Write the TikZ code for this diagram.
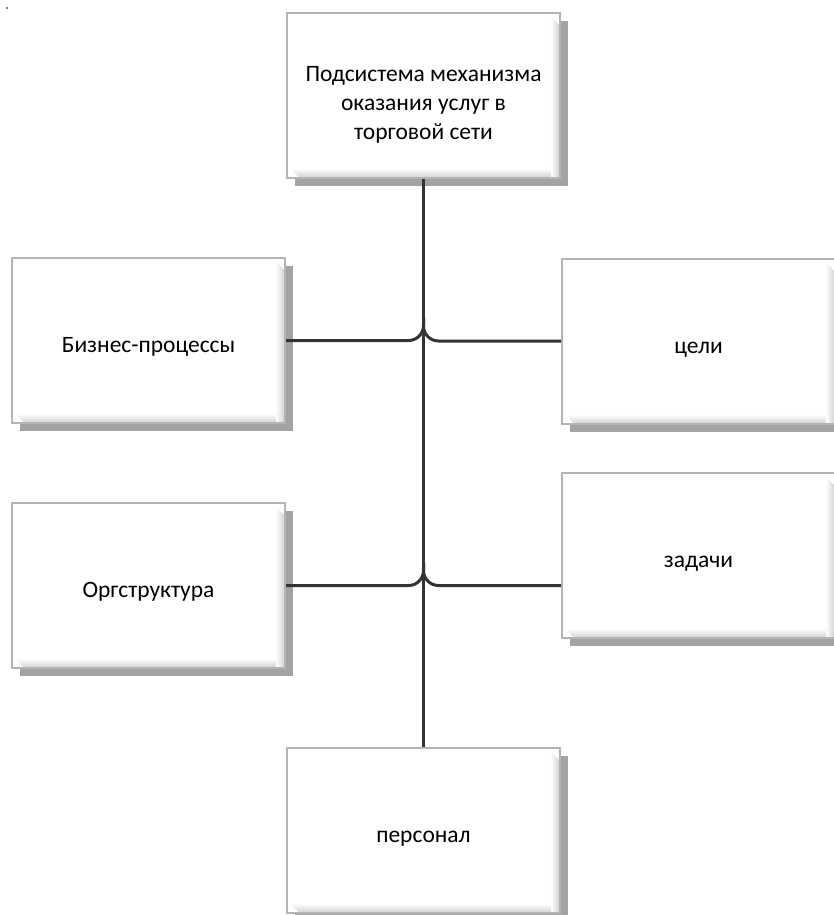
\documentclass[tikz,border=0pt]{standalone}
\usepackage{fontspec}
\setmainfont{Carlito}
\usetikzlibrary{shadows}
\definecolor{conncol}{HTML}{333333}
\definecolor{bordcol}{HTML}{B4B4B4}
\definecolor{shadcol}{HTML}{A3A3A3}
\definecolor{bevcol}{HTML}{D4D4D4}
\tikzset{
  box/.style={draw=bordcol, line width=2pt, fill=white, inner sep=0pt,
    minimum width=273pt, minimum height=165pt, align=center,
    font=\fontsize{23.5}{29}\selectfont,
    text height=29pt, text depth=5pt,
    drop shadow={shadow xshift=8pt, shadow yshift=-8pt, fill=shadcol, opacity=1},
    path picture={
      \foreach \i in {0,...,8}{
        \pgfmathtruncatemacro\cc{100-\i*12}
        \fill[bevcol!\cc!white]
          ([xshift=-\i*1pt-1pt, yshift=-12pt+\i*1pt]path picture bounding box.north east)
          rectangle ([xshift=-\i*1pt]path picture bounding box.south east);
        \fill[bevcol!\cc!white]
          ([xshift=12pt-\i*1pt, yshift=\i*1pt]path picture bounding box.south west)
          rectangle ([xshift=-\i*1pt, yshift=\i*1pt+1pt]path picture bounding box.south east);
      }
    }},
  conn/.style={draw=conncol, line width=3pt, rounded corners=15pt}
}
\begin{document}
\begin{tikzpicture}[x=1pt,y=-1pt]
\useasboundingbox (0,0) rectangle (833,915);
\fill[gray] (6,7) rectangle (8,9);
\node[box, text height=90pt, text depth=2pt] (top) at (423.5,95.5) {Подсистема механизма\\оказания услуг в\\торговой сети};
\node[box] (bp) at (148.5,340.5) {Бизнес-процессы};
\node[box] (cel) at (698.5,341) {цели};
\node[box] (org) at (148.5,585.5) {Оргструктура};
\node[box] (zad) at (698.5,555) {задачи};
\node[box] (pers) at (423.5,830) {персонал};
\coordinate (j1) at (423.5,318);
\coordinate (j2) at (423.5,563);
\draw[conn] (top.south) -- (pers.north);
\draw[conn] (bp.east) -- (bp.east -| top.south) -- (j1);
\draw[conn] (cel.west) -- (cel.west -| top.south) -- (j1);
\draw[conn] (org.east) -- (org.east -| top.south) -- (j2);
\draw[conn] (org.east -| zad.west) -- (org.east -| top.south) -- (j2);
\end{tikzpicture}
\end{document}
